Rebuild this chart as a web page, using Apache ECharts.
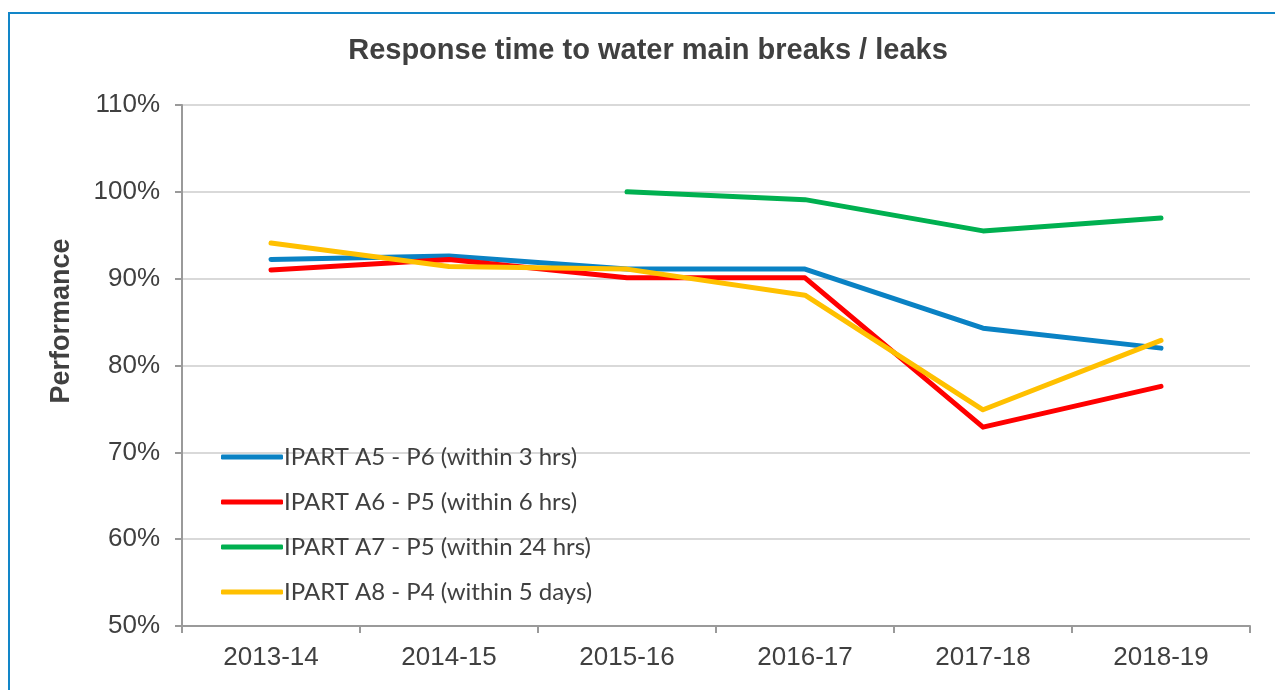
<!DOCTYPE html>
<html>
<head>
<meta charset="utf-8">
<script src="https://cdn.jsdelivr.net/npm/echarts@6/dist/echarts.min.js"></script>
<style>
html,body{margin:0;padding:0;background:#fff;}
#frame{position:absolute;left:8px;top:12px;width:1267px;height:678px;border-left:2px solid #1286C8;border-top:2px solid #1286C8;box-sizing:border-box;}
#chart{position:absolute;left:0;top:0;width:1275px;height:690px;}
</style>
</head>
<body>
<div id="frame"></div>
<div id="chart"></div>
<script>
const categories = ['2013-14', '2014-15', '2015-16', '2016-17', '2017-18', '2018-19'];
const seriesNames = [
  'IPART A5 - P6 (within 3 hrs)',
  'IPART A6 - P5 (within 6 hrs)',
  'IPART A7 - P5 (within 24 hrs)',
  'IPART A8 - P4 (within 5 days)'
];
const a5 = [92.2, 92.6, 91.1, 91.1, 84.3, 82.0];
const a6 = [91.0, 92.2, 90.1, 90.1, 72.9, 77.6];
const a7 = [null, null, 100.0, 99.1, 95.5, 97.0];
const a8 = [94.1, 91.4, 91.1, 88.1, 74.9, 82.9];
const yTicks = { min: 50, max: 110, interval: 10 };
const yAxisTitle = 'Performance';
const colors = ['#0A82C4', '#FF0000', '#00B050', '#FFC000'];

const chart = echarts.init(document.getElementById('chart'), null, { renderer: 'canvas' });
const txt = '#404040';
const mk = (name, data, color) => ({
  name, type: 'line', data, symbol: 'none', smooth: false, connectNulls: false,
  lineStyle: { width: 5, color, cap: 'round', join: 'round' },
  itemStyle: { color }
});
chart.setOption({
  animation: false,
  backgroundColor: 'transparent',
  title: {
    text: 'Response time to water main breaks / leaks',
    left: 643, textAlign: 'center', top: 31,
    textStyle: { fontFamily: 'Liberation Sans, Arial', fontSize: 29, fontWeight: 'bold', color: txt }
  },
  graphic: [{
    type: 'text', x: 62, y: 321, rotation: Math.PI / 2,
    style: {
      text: yAxisTitle, align: 'center', verticalAlign: 'middle',
      font: 'bold 27px "Liberation Sans", Arial', fill: txt
    }
  }],
  grid: { left: 182, right: 25, top: 105, bottom: 64, containLabel: false },
  legend: {
    orient: 'vertical', left: 216, top: 440, itemGap: 21,
    icon: 'roundRect', itemWidth: 62, itemHeight: 5,
    textStyle: { fontFamily: 'Lato', fontSize: 24, color: txt, padding: [0, 0, 0, -4] },
    data: seriesNames
  },
  xAxis: {
    type: 'category', data: categories, boundaryGap: true,
    axisLine: { lineStyle: { color: '#9a9a9a', width: 2 } },
    axisTick: { show: true, length: 7, lineStyle: { color: '#9a9a9a', width: 2 } },
    axisLabel: { fontFamily: 'Liberation Sans, Arial', fontSize: 26, color: txt, margin: 19 },
    splitLine: { show: false }
  },
  yAxis: {
    type: 'value', min: yTicks.min, max: yTicks.max, interval: yTicks.interval,
    axisLine: { show: true, lineStyle: { color: '#9a9a9a', width: 2 } },
    axisTick: { show: true, length: 7, lineStyle: { color: '#9a9a9a', width: 2 } },
    axisLabel: { fontFamily: 'Liberation Sans, Arial', fontSize: 26, color: txt, margin: 22, formatter: '{value}%' },
    splitLine: { show: true, lineStyle: { color: '#d9d9d9', width: 2 } }
  },
  series: [
    mk(seriesNames[0], a5, colors[0]),
    mk(seriesNames[1], a6, colors[1]),
    mk(seriesNames[2], a7, colors[2]),
    mk(seriesNames[3], a8, colors[3])
  ]
});
</script>
</body>
</html>
